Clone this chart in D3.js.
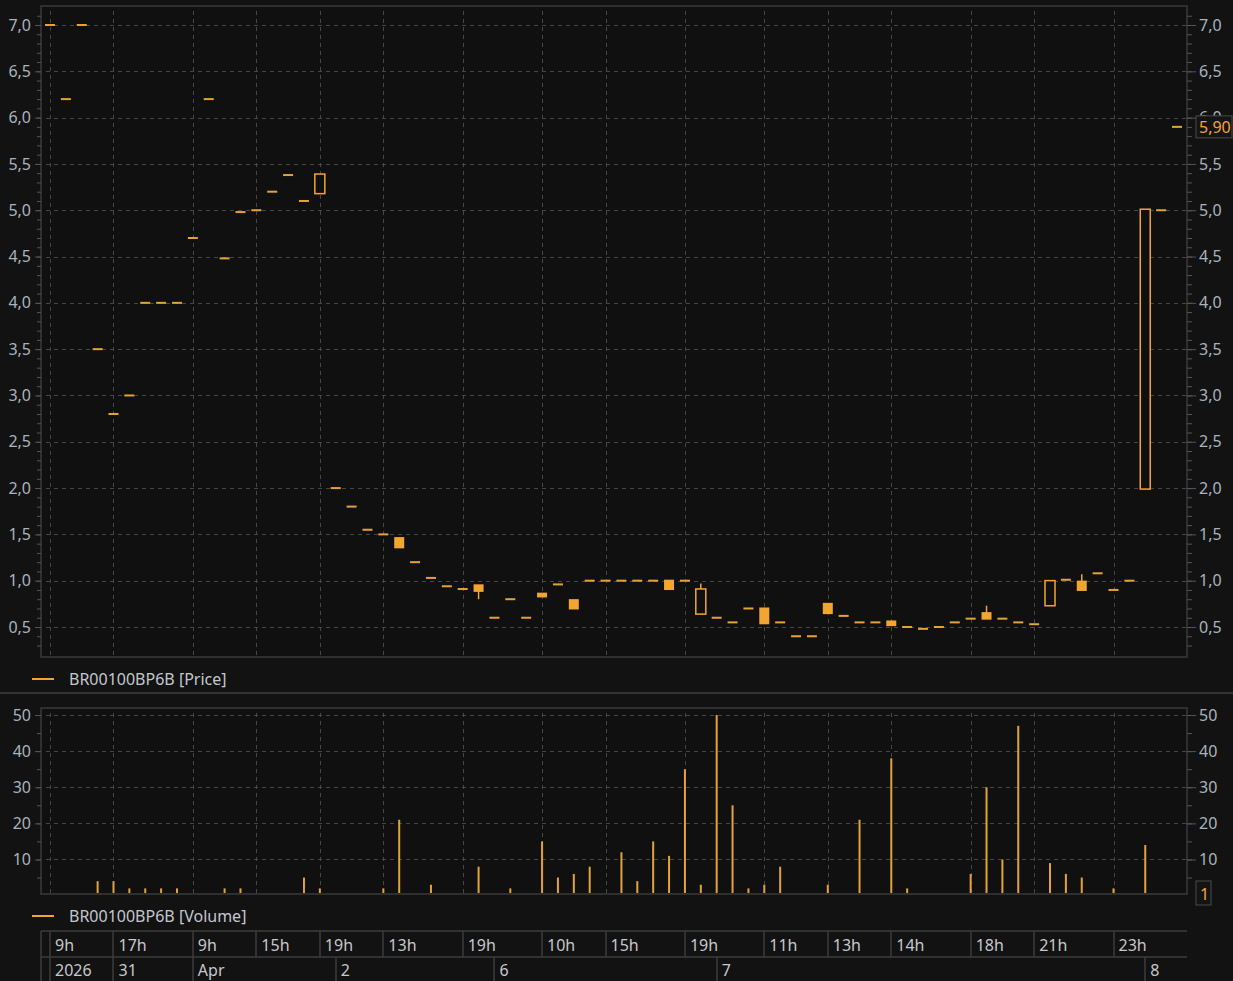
<!DOCTYPE html>
<html lang="en">
  <head>
    <meta charset="utf-8" />
    <title>BR00100BP6B</title>
    <script src="https://d3js.org/d3.v7.min.js"></script>
    <style type="text/css">
      body {
        margin: 0;
        background-color: #121212;
      }
      svg text {
        font-family: "Noto Sans", sans-serif;
      }
    </style>
  </head>
  <body>
    <script type="text/javascript">
      //Width and height
      var w = 1233;
      var h = 981;

      //Candles: open, close, high, low (one per bar)
      var opens = [7.0, 6.2, 7.0, 3.5, 2.8, 3.0, 4.0, 4.0, 4.0, 4.7, 6.2, 4.48, 4.98, 5.0, 5.2, 5.38, 5.1, 5.19,
        2.0, 1.8, 1.55, 1.5, 1.46, 1.2, 1.03, 0.94, 0.91, 0.95, 0.6, 0.8, 0.6, 0.86, 0.96, 0.79,
        1.0, 1.0, 1.0, 1.0, 1.0, 1.0, 1.0, 0.65, 0.6, 0.55, 0.7, 0.7, 0.55, 0.4, 0.4, 0.75,
        0.62, 0.55, 0.55, 0.56, 0.5, 0.48, 0.5, 0.55, 0.59, 0.65, 0.59, 0.55, 0.53, 0.74,
        1.01, 0.99, 1.08, 0.9, 1.0, 2.0, 5.0, 5.9];
      var closes = [7.0, 6.2, 7.0, 3.5, 2.8, 3.0, 4.0, 4.0, 4.0, 4.7, 6.2, 4.48, 4.98, 5.0, 5.2, 5.38, 5.1, 5.38,
        2.0, 1.8, 1.55, 1.5, 1.36, 1.2, 1.03, 0.94, 0.91, 0.89, 0.6, 0.8, 0.6, 0.83, 0.96, 0.7,
        1.0, 1.0, 1.0, 1.0, 1.0, 0.91, 1.0, 0.9, 0.6, 0.55, 0.7, 0.54, 0.55, 0.4, 0.4, 0.65,
        0.62, 0.55, 0.55, 0.52, 0.5, 0.48, 0.5, 0.55, 0.59, 0.59, 0.59, 0.55, 0.53, 0.99,
        1.01, 0.9, 1.08, 0.9, 1.0, 5.0, 5.0, 5.9];
      var highs = [7.0, 6.2, 7.0, 3.5, 2.8, 3.0, 4.0, 4.0, 4.0, 4.7, 6.2, 4.48, 4.98, 5.0, 5.2, 5.38, 5.1, 5.38,
        2.0, 1.8, 1.55, 1.5, 1.46, 1.2, 1.03, 0.94, 0.91, 0.95, 0.6, 0.8, 0.6, 0.86, 0.96, 0.79,
        1.0, 1.0, 1.0, 1.0, 1.0, 1.0, 1.0, 0.97, 0.6, 0.55, 0.7, 0.7, 0.55, 0.4, 0.4, 0.75,
        0.62, 0.55, 0.55, 0.56, 0.5, 0.48, 0.5, 0.55, 0.59, 0.73, 0.59, 0.55, 0.53, 0.99,
        1.01, 1.07, 1.08, 0.9, 1.0, 5.0, 5.0, 5.9];
      var lows = [7.0, 6.2, 7.0, 3.5, 2.8, 3.0, 4.0, 4.0, 4.0, 4.7, 6.2, 4.48, 4.98, 5.0, 5.2, 5.38, 5.1, 5.19,
        2.0, 1.8, 1.55, 1.5, 1.36, 1.2, 1.03, 0.94, 0.91, 0.8, 0.6, 0.8, 0.6, 0.83, 0.96, 0.7,
        1.0, 1.0, 1.0, 1.0, 1.0, 0.91, 1.0, 0.65, 0.6, 0.55, 0.7, 0.54, 0.55, 0.4, 0.4, 0.65,
        0.62, 0.55, 0.55, 0.52, 0.5, 0.48, 0.5, 0.55, 0.59, 0.59, 0.59, 0.55, 0.53, 0.74,
        1.01, 0.9, 1.08, 0.9, 1.0, 2.0, 5.0, 5.9];

      //Volume per bar (0 = no trade)
      var volumes = [0, 0, 0, 4, 4, 2, 2, 2, 2, 0, 0, 2, 2, 0, 0, 0, 5, 2,
        0, 0, 0, 2, 21, 0, 3, 0, 0, 8, 0, 2, 0, 15, 5, 6,
        8, 0, 12, 4, 15, 11, 35, 3, 50, 25, 2, 3, 8, 0, 0, 3,
        0, 21, 0, 38, 2, 0, 0, 0, 6, 30, 10, 47, 0, 9,
        6, 5, 0, 2, 0, 14, 0, 0];

      //Time axis labels, by bar index
      var hourIdx = [0, 4, 9, 13, 17, 21, 26, 31, 35, 40, 45, 49, 53, 58, 62, 67];
      var hourLabels = ["9h", "17h", "9h", "15h", "19h", "13h", "19h", "10h", "15h", "19h", "11h", "13h", "14h", "18h", "21h", "23h"];
      var dateIdx = [0, 4, 9, 18, 28, 42, 69];
      var dateLabels = ["2026", "31", "Apr", "2", "6", "7", "8"];

      var priceTicks = [0.5, 1.0, 1.5, 2.0, 2.5, 3.0, 3.5, 4.0, 4.5, 5.0, 5.5, 6.0, 6.5, 7.0];
      var volTicks = [10, 20, 30, 40, 50];
      var lastPrice = 5.9;
      var lastVolLabel = "1";

      var orange = "#f2a631";
      var dashColor = "#e4a338";
      var gridColor = "#474747";
      var frameColor = "#3a3a3a";
      var labelColor = "#aab2be";
      var fmt = function (v) {
        return d3.format(".1f")(v).replace(".", ",");
      };

      //Panel boxes
      var left = 41, right = 1187;
      var pTop = 6, pBottom = 657;
      var vTop = 708, vBottom = 894;

      var xScale = d3.scaleLinear().domain([0, opens.length - 1]).range([50, 1177]);
      var yScale = d3.scaleLinear().domain([0.5, 7.0]).range([627, 25]);
      var vScale = d3.scaleLinear().domain([0, 50]).range([895.6, 715]);

      //Create SVG element
      var svg = d3.select("body").append("svg").attr("width", w).attr("height", h);

      svg.append("rect").attr("width", w).attr("height", h).attr("fill", "#121212");

      //Panel frames
      [[pTop, pBottom], [vTop, vBottom]].forEach(function (p) {
        svg.append("rect")
          .attr("x", left).attr("y", p[0])
          .attr("width", right - left).attr("height", p[1] - p[0])
          .attr("fill", "#101010")
          .attr("stroke", frameColor)
          .attr("stroke-width", 1.5);
      });

      //Separator between panels
      svg.append("line")
        .attr("x1", 0).attr("x2", w).attr("y1", 693).attr("y2", 693)
        .attr("stroke", "#333").attr("stroke-width", 2);

      //Vertical grid lines in both panels
      [[pTop, pBottom], [vTop, vBottom]].forEach(function (p) {
        svg.append("g")
          .selectAll("line")
          .data(hourIdx)
          .enter()
          .append("line")
          .attr("x1", function (d) { return Math.round(xScale(d)) + 0.5; })
          .attr("x2", function (d) { return Math.round(xScale(d)) + 0.5; })
          .attr("y1", p[0] + 5)
          .attr("y2", p[1])
          .attr("stroke", gridColor)
          .attr("stroke-dasharray", "4,4");
      });

      //Horizontal grid lines
      svg.append("g")
        .selectAll("line")
        .data(priceTicks)
        .enter()
        .append("line")
        .attr("x1", left + 5).attr("x2", right)
        .attr("y1", function (d) { return Math.round(yScale(d)) + 0.5; })
        .attr("y2", function (d) { return Math.round(yScale(d)) + 0.5; })
        .attr("stroke", gridColor)
        .attr("stroke-dasharray", "4,4");

      svg.append("g")
        .selectAll("line")
        .data(volTicks)
        .enter()
        .append("line")
        .attr("x1", left + 5).attr("x2", right)
        .attr("y1", function (d) { return Math.round(vScale(d)) + 0.5; })
        .attr("y2", function (d) { return Math.round(vScale(d)) + 0.5; })
        .attr("stroke", gridColor)
        .attr("stroke-dasharray", "4,4");

      //Left and right axes with d3 axis generators
      function styleAxis(g) {
        g.select(".domain").remove();
        g.selectAll(".tick line").attr("stroke", "#555");
        g.selectAll(".tick text")
          .attr("fill", labelColor)
          .style("font-size", "16px");
      }

      var minorPrice = d3.range(3, 72).map(function (i) { return i / 10; });
      var minorVol = d3.range(5, 51, 5);

      svg.append("g")
        .attr("transform", "translate(" + left + ",0)")
        .call(d3.axisLeft(yScale).tickValues(minorPrice).tickSize(4).tickFormat(""))
        .call(styleAxis);
      svg.append("g")
        .attr("transform", "translate(" + left + ",0)")
        .call(d3.axisLeft(yScale).tickValues(priceTicks).tickSize(6).tickPadding(4).tickFormat(fmt))
        .call(styleAxis);
      svg.append("g")
        .attr("transform", "translate(" + right + ",0)")
        .call(d3.axisRight(yScale).tickValues(minorPrice).tickSize(5).tickFormat(""))
        .call(styleAxis);
      svg.append("g")
        .attr("transform", "translate(" + right + ",0)")
        .call(d3.axisRight(yScale).tickValues(priceTicks).tickSize(9).tickPadding(3).tickFormat(fmt))
        .call(styleAxis);

      svg.append("g")
        .attr("transform", "translate(" + left + ",0)")
        .call(d3.axisLeft(vScale).tickValues(minorVol).tickSize(4).tickFormat(""))
        .call(styleAxis);
      svg.append("g")
        .attr("transform", "translate(" + left + ",0)")
        .call(d3.axisLeft(vScale).tickValues(volTicks).tickSize(6).tickPadding(4))
        .call(styleAxis);
      svg.append("g")
        .attr("transform", "translate(" + right + ",0)")
        .call(d3.axisRight(vScale).tickValues(minorVol).tickSize(5).tickFormat(""))
        .call(styleAxis);
      svg.append("g")
        .attr("transform", "translate(" + right + ",0)")
        .call(d3.axisRight(vScale).tickValues(volTicks).tickSize(9).tickPadding(3))
        .call(styleAxis);

      //Candles
      var candles = d3.range(opens.length);
      var bw = 10;

      //Wicks
      svg.append("g")
        .selectAll("line")
        .data(candles.filter(function (i) { return highs[i] !== lows[i]; }))
        .enter()
        .append("line")
        .attr("x1", function (i) { return xScale(i); })
        .attr("x2", function (i) { return xScale(i); })
        .attr("y1", function (i) { return yScale(highs[i]); })
        .attr("y2", function (i) { return yScale(lows[i]); })
        .attr("stroke", orange)
        .attr("stroke-width", 1.5);

      //Bodies (dash when open == close)
      svg.append("g")
        .selectAll("rect")
        .data(candles)
        .enter()
        .append("rect")
        .attr("x", function (i) { return xScale(i) - bw / 2; })
        .attr("y", function (i) { return yScale(Math.max(opens[i], closes[i])) - 1; })
        .attr("width", bw)
        .attr("height", function (i) {
          return Math.abs(yScale(opens[i]) - yScale(closes[i])) + 2;
        })
        .attr("fill", function (i) {
          if (opens[i] === closes[i]) return dashColor;
          return closes[i] > opens[i] ? "#101010" : orange;
        })
        .attr("stroke", function (i) {
          return closes[i] > opens[i] ? orange : "none";
        })
        .attr("stroke-width", 1.5);

      //Volume bars
      svg.append("g")
        .selectAll("line")
        .data(candles.filter(function (i) { return volumes[i] > 0; }))
        .enter()
        .append("line")
        .attr("x1", function (i) { return xScale(i); })
        .attr("x2", function (i) { return xScale(i); })
        .attr("y1", function (i) { return vScale(volumes[i]); })
        .attr("y2", vBottom - 1)
        .attr("stroke", dashColor)
        .attr("stroke-width", 2);

      //Last price marker on right axis
      var lp = svg.append("g").attr("transform", "translate(1196," + yScale(lastPrice) + ")");
      lp.append("rect")
        .attr("x", 0).attr("y", -11).attr("width", 36).attr("height", 22)
        .attr("fill", "#141414").attr("stroke", "#4a4a4a");
      lp.append("text")
        .attr("x", 3).attr("y", 6)
        .attr("fill", orange)
        .style("font-size", "16px")
        .text(fmt(lastPrice) + "0");

      var lv = svg.append("g").attr("transform", "translate(1196,893)");
      lv.append("rect")
        .attr("x", 0).attr("y", -12).attr("width", 15).attr("height", 24)
        .attr("fill", "#141414").attr("stroke", "#4a4a4a");
      lv.append("text")
        .attr("x", 4).attr("y", 7)
        .attr("fill", orange)
        .style("font-size", "16px")
        .text(lastVolLabel);

      //Legends
      [[679, "BR00100BP6B [Price]"], [916, "BR00100BP6B [Volume]"]].forEach(function (l) {
        svg.append("line")
          .attr("x1", 32).attr("x2", 54).attr("y1", l[0]).attr("y2", l[0])
          .attr("stroke", orange).attr("stroke-width", 2);
        svg.append("text")
          .attr("x", 69).attr("y", l[0] + 6)
          .attr("fill", "#c3c7ce")
          .style("font-size", "16px")
          .text(l[1]);
      });

      //Time axis grid
      var tTop = 931, tMid = 957, tBottom = 981;
      var tg = svg.append("g").attr("stroke", "#3c3c3c").attr("stroke-width", 1.5);
      tg.append("line").attr("x1", left).attr("x2", right).attr("y1", tTop).attr("y2", tTop);
      tg.append("line").attr("x1", left).attr("x2", right).attr("y1", tMid).attr("y2", tMid);
      tg.append("line").attr("x1", left).attr("x2", left).attr("y1", tTop).attr("y2", tBottom);

      tg.selectAll(".hsep")
        .data(hourIdx)
        .enter()
        .append("line")
        .attr("x1", function (d) { return Math.round(xScale(d)); })
        .attr("x2", function (d) { return Math.round(xScale(d)); })
        .attr("y1", tTop)
        .attr("y2", tMid);

      tg.selectAll(".dsep")
        .data(dateIdx)
        .enter()
        .append("line")
        .attr("x1", function (d) { return Math.round(xScale(d)); })
        .attr("x2", function (d) { return Math.round(xScale(d)); })
        .attr("y1", tMid)
        .attr("y2", tBottom);

      svg.append("g")
        .selectAll("text")
        .data(hourIdx)
        .enter()
        .append("text")
        .attr("x", function (d) { return xScale(d) + 5; })
        .attr("y", 951)
        .attr("fill", "#c6c8cc")
        .style("font-size", "16px")
        .text(function (d, i) { return hourLabels[i]; });

      svg.append("g")
        .selectAll("text")
        .data(dateIdx)
        .enter()
        .append("text")
        .attr("x", function (d) { return xScale(d) + 5; })
        .attr("y", 976)
        .attr("fill", "#c6c8cc")
        .style("font-size", "16px")
        .text(function (d, i) { return dateLabels[i]; });
    </script>
  </body>
</html>
